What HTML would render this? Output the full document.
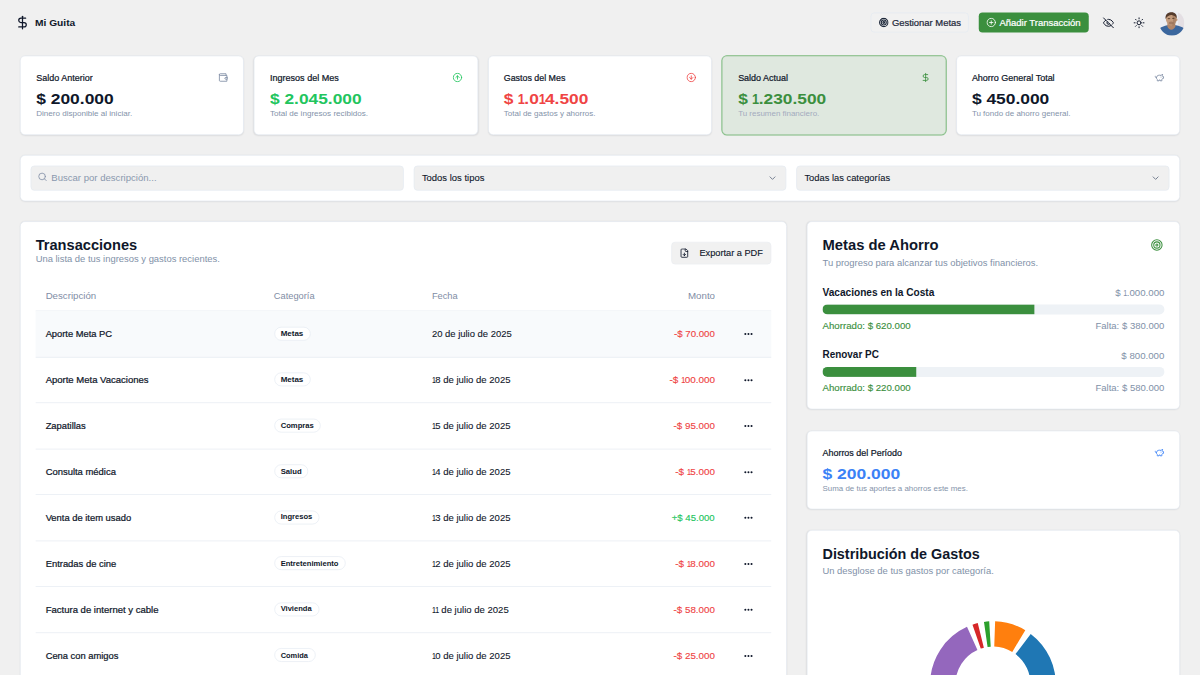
<!DOCTYPE html>
<html lang="es">
<head>
<meta charset="utf-8">
<title>Mi Guita</title>
<style>
*{box-sizing:border-box;margin:0;padding:0}
html,body{width:1200px;height:675px;overflow:hidden;background:#f0f0f0}
body{font-family:"Liberation Sans",sans-serif;color:#0f172a}
#root{position:absolute;left:0;top:0;width:1920px;height:1080px;transform:scale(.625);transform-origin:0 0;background:#f0f0f0;overflow:hidden}
svg.i{fill:none;stroke:currentColor;stroke-width:2;stroke-linecap:round;stroke-linejoin:round;display:block}
.card{position:absolute;background:#fff;border:1px solid #e2e8f0;border-radius:8px;box-shadow:0 1px 3px rgba(15,23,42,.05),0 1px 2px rgba(15,23,42,.03)}
.muted{color:#64748b}
/* header */
.logo{position:absolute;left:24px;top:24px;width:24px;height:24px;color:#0f172a}
.brand{position:absolute;left:56.400px;top:25px;height:24px;line-height:24px;font-size:15.700px;font-weight:700;white-space:nowrap}
.btn{position:absolute;top:20px;height:32px;border-radius:6px;display:flex;align-items:center;font-size:14.400px;white-space:nowrap}
.btn svg{width:16px;height:16px;margin-right:5px}
.btn-out{left:1393px;width:157px;border:1px solid #e2e8f0;background:#f1f1f1;padding-left:12px;color:#1e293b}
.btn-pri{left:1566px;width:176px;background:#3b8f3e;color:#fff;padding-left:12px}
.hicon{position:absolute;width:19px;height:19px;top:26.500px;color:#0f172a}
.avatar{position:absolute;left:1854.700px;top:16.600px;width:40px;height:40px;border-radius:50%;overflow:hidden}
/* stat cards */
.stat{top:88.500px;width:358.4px;height:127px}
.stat .t{position:absolute;left:24.500px;top:24px;height:20px;line-height:20px;font-size:14.400px;white-space:nowrap}
.stat .v{position:absolute;left:24.500px;top:52px;height:32px;line-height:32px;font-size:24.800px;font-weight:700;white-space:nowrap}
.stat .d{position:absolute;left:24.500px;top:84px;height:16px;line-height:16px;font-size:12.400px;color:#8493aa;white-space:nowrap}
.stat svg{position:absolute;right:24px;top:26px;width:16px;height:16px;color:#7d8ca4}

/* filter */
.filter{left:32px;top:248px;width:1856px;height:74px}
.inp{position:absolute;top:16px;height:40px;width:596.67px;border:1px solid #e2e8f0;border-radius:6px;background:#f0f0f0;font-size:14.400px;line-height:38px;white-space:nowrap}
.inp .ph{position:absolute;left:31.500px;top:0;color:#8a98ae}
.inp .val{position:absolute;left:12px;top:0;color:#0f172a}
.inp svg.s{position:absolute;left:9.500px;top:9px;width:16px;height:16px;color:#8492a8}
.inp svg.c{position:absolute;right:13.300px;top:11px;width:16px;height:16px;color:#5f6b80}
/* tx */
.tx{left:32px;top:354px;width:1226.67px;height:760px}
.h1{position:absolute;left:24px;top:25px;height:24px;line-height:24px;font-size:24.300px;font-weight:700;white-space:nowrap;color:#0f172a}
.sub{position:absolute;left:24px;height:20px;line-height:20px;font-size:14.400px;color:#8191a8;white-space:nowrap}
.exp{position:absolute;left:1041px;top:32px;width:160px;height:36px;border-radius:6px;background:#f1f1f1;border:1px solid #e8ebf0;font-size:14.400px;line-height:34px;color:#0f172a;white-space:nowrap}
.exp svg{position:absolute;left:12px;top:9px;width:16px;height:16px}
.exp span{position:absolute;left:44px;top:0}
.th{position:absolute;top:94px;height:48px;line-height:48px;font-size:14.400px;color:#7f8da5;white-space:nowrap}
.hl{position:absolute;left:24px;width:1176.67px;height:1px;background:#e2e8f0}
.row{position:absolute;left:24px;width:1176.67px;height:73.500px;font-size:14.400px;line-height:72.500px;white-space:nowrap;border-bottom:1px solid #e2e8f0;color:#0f172a}
.row > span{position:absolute;top:0}
.row .c1{left:16px}
.row .c3{left:634px}
.row .c4{right:90px}
.row .bd{position:absolute;left:381.600px;top:24.900px;height:22px;line-height:20px;border:1px solid #e2e8f0;border-radius:11px;font-size:12.800px;font-weight:700;background:#fff}
.row .bd b{position:absolute;left:9.800px;top:-.700px;font-weight:700}
.row svg{position:absolute;left:1131.500px;top:28.300px;width:17px;height:17px}
.n{font-style:normal;display:inline-block;width:.356em;transform:scaleX(.740);transform-origin:0 50%;margin:0 .020em 0 -.020em}
.m,.stat .t,.sav .t,.btn span,.row > .c1{-webkit-text-stroke:.350px currentColor}
.gs,.exp span{-webkit-text-stroke:.200px currentColor}
.inp .val{-webkit-text-stroke:.150px currentColor}
.row > .c4{-webkit-text-stroke:.200px currentColor}
.row > .c3{-webkit-text-stroke:.150px currentColor}
.neg{color:#ef4444}.pos{color:#22c55e}

/* right col */
.goals{left:1290.67px;top:354px;width:597.33px;height:301px}
.sav{left:1290.67px;top:689px;width:597.33px;height:126px}
.dist{left:1290.67px;top:848px;width:597.33px;height:420px}
.gi{position:absolute;right:25.500px;top:27px;width:20px;height:20px;color:#3b8f3e}
.gname{position:absolute;left:24px;height:24px;line-height:24px;font-size:16.400px;font-weight:700;white-space:nowrap}
.gtot{position:absolute;right:24px;height:20px;line-height:20px;font-size:14.400px;color:#8191a8;white-space:nowrap}
.bar{position:absolute;left:24px;width:547.33px;height:16px;border-radius:8px;background:#eef2f6;overflow:hidden}
.bar i{display:block;height:16px;background:#3b8f3e}
.gs{position:absolute;left:24px;height:20px;line-height:20px;font-size:14.400px;color:#3b8f3e;white-space:nowrap}
.gf{position:absolute;right:24px;height:20px;line-height:20px;font-size:14.400px;color:#8191a8;white-space:nowrap}
.sav .t{position:absolute;left:24px;top:24px;height:20px;line-height:20px;font-size:14.400px;white-space:nowrap}
.sav .v{position:absolute;left:24px;top:52px;height:32px;line-height:32px;font-size:24.800px;font-weight:700;white-space:nowrap;color:#3b82f6}
.sav .d{position:absolute;left:24px;top:84px;height:16px;line-height:16px;font-size:12.400px;color:#8493aa;white-space:nowrap}
.sav svg{position:absolute;right:24px;top:26px;width:16px;height:16px;color:#3b82f6}
</style>
<style id="fit">
#t-brand{transform:scaleX(1.0398);transform-origin:left center}
#t-gest{transform:scaleX(1.0476);transform-origin:left center}
#t-add{transform:scaleX(1.0553);transform-origin:left center}
#s0t{transform:scaleX(0.9976);transform-origin:left center}
#s0v{transform:scaleX(1.1229);transform-origin:left center}
#s0d{transform:scaleX(1.0414);transform-origin:left center}
#s1t{transform:scaleX(1.0037);transform-origin:left center}
#s1v{transform:scaleX(1.1182);transform-origin:left center}
#s1d{transform:scaleX(1.0447);transform-origin:left center}
#s2t{transform:scaleX(0.9861);transform-origin:left center}
#s2v{transform:scaleX(1.1172);transform-origin:left center}
#s2d{transform:scaleX(1.0350);transform-origin:left center}
#s3t{transform:scaleX(0.9973);transform-origin:left center}
#s3v{transform:scaleX(1.1177);transform-origin:left center}
#s3d{transform:scaleX(1.0284);transform-origin:left center}
#s4t{transform:scaleX(0.9990);transform-origin:left center}
#s4v{transform:scaleX(1.1229);transform-origin:left center}
#s4d{transform:scaleX(1.0307);transform-origin:left center}
#t-ph{transform:scaleX(1.0641);transform-origin:left center}
#t-sel1{transform:scaleX(1.0504);transform-origin:left center}
#t-sel2{transform:scaleX(1.0394);transform-origin:left center}
#t-tx{transform:scaleX(0.9631);transform-origin:left center}
#t-txs{transform:scaleX(1.0466);transform-origin:left center}
#t-exp{transform:scaleX(1.0246);transform-origin:left center}
#th1{transform:scaleX(1.0757);transform-origin:left center}
#th2{transform:scaleX(1.0348);transform-origin:left center}
#th3{transform:scaleX(1.0334);transform-origin:left center}
#th4{transform:scaleX(1.0796);transform-origin:right center}
#r0a{transform:scaleX(1.0383);transform-origin:left center}
#r1a{transform:scaleX(1.0571);transform-origin:left center}
#r2a{transform:scaleX(1.0424);transform-origin:left center}
#r3a{transform:scaleX(1.0487);transform-origin:left center}
#r4a{transform:scaleX(1.0426);transform-origin:left center}
#r5a{transform:scaleX(1.0466);transform-origin:left center}
#r6a{transform:scaleX(1.0597);transform-origin:left center}
#r7a{transform:scaleX(1.0393);transform-origin:left center}
#r8a{transform:scaleX(1.0701);transform-origin:left center}
#r0b{transform:scaleX(1.0010);transform-origin:left center}
#r1b{transform:scaleX(1.0010);transform-origin:left center}
#r2b{transform:scaleX(0.9575);transform-origin:left center}
#r3b{transform:scaleX(0.9639);transform-origin:left center}
#r4b{transform:scaleX(0.9507);transform-origin:left center}
#r5b{transform:scaleX(0.9508);transform-origin:left center}
#r6b{transform:scaleX(0.9477);transform-origin:left center}
#r7b{transform:scaleX(0.9285);transform-origin:left center}
#r8b{transform:scaleX(0.9285);transform-origin:left center}
#r0c{transform:scaleX(1.0500);transform-origin:left center}
#r1c{transform:scaleX(1.0591);transform-origin:left center}
#r2c{transform:scaleX(1.0591);transform-origin:left center}
#r3c{transform:scaleX(1.0591);transform-origin:left center}
#r4c{transform:scaleX(1.0591);transform-origin:left center}
#r5c{transform:scaleX(1.0591);transform-origin:left center}
#r6c{transform:scaleX(1.0612);transform-origin:left center}
#r7c{transform:scaleX(1.0591);transform-origin:left center}
#r8c{transform:scaleX(1.0385);transform-origin:left center}
#r0d{transform:scaleX(1.0771);transform-origin:right center}
#r1d{transform:scaleX(1.1026);transform-origin:right center}
#r2d{transform:scaleX(1.0870);transform-origin:right center}
#r3d{transform:scaleX(1.0943);transform-origin:right center}
#r4d{transform:scaleX(1.0649);transform-origin:right center}
#r5d{transform:scaleX(1.0943);transform-origin:right center}
#r6d{transform:scaleX(1.0870);transform-origin:right center}
#r7d{transform:scaleX(1.0870);transform-origin:right center}
#r8d{transform:scaleX(1.0870);transform-origin:right center}
#t-goals{transform:scaleX(0.9721);transform-origin:left center}
#t-goalss{transform:scaleX(1.0461);transform-origin:left center}
#g1n{transform:scaleX(0.9868);transform-origin:left center}
#g1t{transform:scaleX(1.0770);transform-origin:right center}
#g1s{transform:scaleX(1.0746);transform-origin:left center}
#g1f{transform:scaleX(1.0610);transform-origin:right center}
#g2n{transform:scaleX(0.9698);transform-origin:left center}
#g2t{transform:scaleX(1.0761);transform-origin:right center}
#g2s{transform:scaleX(1.0746);transform-origin:left center}
#g2f{transform:scaleX(1.0610);transform-origin:right center}
#t-sav{transform:scaleX(0.9938);transform-origin:left center}
#t-savv{transform:scaleX(1.1275);transform-origin:left center}
#t-savd{transform:scaleX(1.0236);transform-origin:left center}
#t-dist{transform:scaleX(0.9461);transform-origin:left center}
#t-dists{transform:scaleX(1.0446);transform-origin:left center}
</style>
</head>
<body>
<div id="root">
<svg class="i logo" viewBox="0 0 24 24"><line x1="12" x2="12" y1="2" y2="22"/><path d="M17 5H9.500a3.500 3.500 0 0 0 0 7h5a3.500 3.500 0 0 1 0 7H6"/></svg>
<div class="brand" id="t-brand">Mi Guita</div>
<div class="btn btn-out"><svg class="i" style="stroke-width:2.700" viewBox="0 0 24 24"><circle cx="12" cy="12" r="10"/><circle cx="12" cy="12" r="6"/><circle cx="12" cy="12" r="2"/></svg><span id="t-gest">Gestionar Metas</span></div>
<div class="btn btn-pri"><svg class="i" viewBox="0 0 24 24"><circle cx="12" cy="12" r="10"/><path d="M8 12h8"/><path d="M12 8v8"/></svg><span id="t-add">Añadir Transacción</span></div>
<svg class="i hicon" style="left:1764.100px" viewBox="0 0 24 24"><path d="M9.880 9.880a3 3 0 1 0 4.240 4.240"/><path d="M10.730 5.080A10.430 10.430 0 0 1 12 5c7 0 10 7 10 7a13.160 13.160 0 0 1-1.670 2.680"/><path d="M6.610 6.610A13.526 13.526 0 0 0 2 12s3 7 10 7a9.740 9.740 0 0 0 5.390-1.610"/><line x1="2" x2="22" y1="2" y2="22"/></svg>
<svg class="i hicon" style="left:1812.700px" viewBox="0 0 24 24"><circle cx="12" cy="12" r="4"/><path d="M12 2v2"/><path d="M12 20v2"/><path d="m4.930 4.930 1.410 1.410"/><path d="m17.660 17.660 1.410 1.410"/><path d="M2 12h2"/><path d="M20 12h2"/><path d="m6.340 17.660-1.410 1.410"/><path d="m19.070 4.930-1.410 1.410"/></svg>
<div class="avatar"><svg viewBox="0 0 40 40" width="40" height="40"><rect width="40" height="40" fill="#eceef3"/><rect x="30" width="10" height="40" fill="#e4dfe3"/><path d="M0 28.500c4-2.500 8-4 12.500-5h14c5 1 9 2.500 13.500 5v11.500H0z" fill="#3b679e"/><path d="M13 20h12l1 4.500c-2 4-4 6-7 6s-5-2-6.500-6z" fill="#b0866a"/><ellipse cx="18.800" cy="13.500" rx="8.400" ry="10.300" fill="#c49c7e"/><path d="M19 3c5 0 9 4 8.500 12-.300 5-3 9-7 9 2-6 2-14-1.500-21z" fill="#9c7459" opacity=".600"/><path d="M10 13.500c-1.200-6.500 3-10.800 9.300-10.800 6 0 9.300 3.800 8.400 9.800-1.300-3-3.300-4.800-6.800-5.300-4-.500-8 .800-10.900 6.300z" fill="#553c2d"/><ellipse cx="15.300" cy="12.600" rx="2.200" ry="1" fill="#46301f" opacity=".750"/><ellipse cx="22.300" cy="12.300" rx="2.100" ry="1" fill="#46301f" opacity=".750"/><ellipse cx="18.800" cy="19.800" rx="4.200" ry="2.600" fill="#7a5540" opacity=".450"/><ellipse cx="27.700" cy="14.500" rx="1.300" ry="2.100" fill="#bd9375"/></svg></div>
<div class="card stat" style="left:32.0px;"><div class="t" id="s0t">Saldo Anterior</div><svg class="i" viewBox="0 0 24 24" style="color:#7d8ca4"><path d="M21 12V7H5a2 2 0 0 1 0-4h14v4"/><path d="M3 5v14a2 2 0 0 0 2 2h16v-5"/><path d="M18 12a2 2 0 0 0 0 4h4v-4Z"/></svg><div class="v" id="s0v" style="color:#0f172a">$ 200.000</div><div class="d" id="s0d">Dinero disponible al iniciar.</div></div>
<div class="card stat" style="left:406.4px;"><div class="t" id="s1t">Ingresos del Mes</div><svg class="i" viewBox="0 0 24 24" style="color:#22c55e"><circle cx="12" cy="12" r="10"/><path d="m16 12-4-4-4 4"/><path d="M12 16V8"/></svg><div class="v" id="s1v" style="color:#22c55e">$ 2.045.000</div><div class="d" id="s1d">Total de ingresos recibidos.</div></div>
<div class="card stat" style="left:780.8px;"><div class="t" id="s2t">Gastos del Mes</div><svg class="i" viewBox="0 0 24 24" style="color:#ef4444"><circle cx="12" cy="12" r="10"/><path d="M12 8v8"/><path d="m8 12 4 4 4-4"/></svg><div class="v" id="s2v" style="color:#ef4444">$ <i class="n">1</i>.0<i class="n">1</i>4.500</div><div class="d" id="s2d">Total de gastos y ahorros.</div></div>
<div class="card stat" style="left:1155.2px;background:#dfe8df;border-color:#86bf88;box-shadow:0 0 0 .800px #86bf88;"><div class="t" id="s3t">Saldo Actual</div><svg class="i" viewBox="0 0 24 24" style="color:#3b8f3e"><line x1="12" x2="12" y1="2" y2="22"/><path d="M17 5H9.500a3.500 3.500 0 0 0 0 7h5a3.500 3.500 0 0 1 0 7H6"/></svg><div class="v" id="s3v" style="color:#3b8f3e">$ <i class="n">1</i>.230.500</div><div class="d" id="s3d" style="color:#a3abbe">Tu resumen financiero.</div></div>
<div class="card stat" style="left:1529.6px;"><div class="t" id="s4t">Ahorro General Total</div><svg class="i" viewBox="0 0 24 24" style="color:#7d8ca4"><path d="M19 5c-1.500 0-2.800 1.400-3 2-3.500-1.500-11-.300-11 5 0 1.800 0 3 2 4.500V20h4v-2h3v2h4v-4c1-.500 1.700-1 2-2h2v-4h-2c0-1-.500-1.500-1-2V5z"/><path d="M2 9v1c0 1.100.900 2 2 2h1"/><path d="M16 11h.010"/></svg><div class="v" id="s4v" style="color:#0f172a">$ 450.000</div><div class="d" id="s4d">Tu fondo de ahorro general.</div></div>

<div class="card filter">
<div class="inp" style="left:16px"><svg class="i s" viewBox="0 0 24 24"><circle cx="11" cy="11" r="8"/><path d="m21 21-4.300-4.300"/></svg><span class="ph" id="t-ph">Buscar por descripción...</span></div>
<div class="inp" style="left:628.67px"><span class="val" id="t-sel1">Todos los tipos</span><svg class="i c" viewBox="0 0 24 24"><path d="m6 9 6 6 6-6"/></svg></div>
<div class="inp" style="left:1241.33px"><span class="val" id="t-sel2">Todas las categorías</span><svg class="i c" viewBox="0 0 24 24"><path d="m6 9 6 6 6-6"/></svg></div>
</div>
<div class="card tx">
<div class="h1" id="t-tx">Transacciones</div>
<div class="sub" id="t-txs" style="top:49px">Una lista de tus ingresos y gastos recientes.</div>
<div class="exp"><svg class="i" viewBox="0 0 24 24"><path d="M15 2H6a2 2 0 0 0-2 2v16a2 2 0 0 0 2 2h12a2 2 0 0 0 2-2V7Z"/><path d="M14 2v4a2 2 0 0 0 2 2h4"/><path d="M12 18v-6"/><path d="m9 15 3 3 3-3"/></svg><span id="t-exp">Exportar a PDF</span></div>
<div class="th" id="th1" style="left:40px">Descripción</div>
<div class="th" id="th2" style="left:405px">Categoría</div>
<div class="th" id="th3" style="left:658px">Fecha</div>
<div class="th" id="th4" style="right:114px">Monto</div>
<div class="hl" style="top:142px"></div>
<div class="row" style="top:143.0px;background:#f8fafc"><span class="c1" id="r0a">Aporte Meta PC</span><span class="bd" style="width:58.2px"><b id="r0b">Metas</b></span><span class="c3" id="r0c">20 de julio de 2025</span><span class="c4 neg" id="r0d">-$ 70.000</span><svg viewBox="0 0 24 24"><circle cx="12" cy="12" r="2.300" fill="#0f172a"/><circle cx="19" cy="12" r="2.300" fill="#0f172a"/><circle cx="5" cy="12" r="2.300" fill="#0f172a"/></svg></div>
<div class="row" style="top:216.5px"><span class="c1" id="r1a">Aporte Meta Vacaciones</span><span class="bd" style="width:58.2px"><b id="r1b">Metas</b></span><span class="c3" id="r1c"><i class="n">1</i>8 de julio de 2025</span><span class="c4 neg" id="r1d">-$ <i class="n">1</i>00.000</span><svg viewBox="0 0 24 24"><circle cx="12" cy="12" r="2.300" fill="#0f172a"/><circle cx="19" cy="12" r="2.300" fill="#0f172a"/><circle cx="5" cy="12" r="2.300" fill="#0f172a"/></svg></div>
<div class="row" style="top:290.0px"><span class="c1" id="r2a">Zapatillas</span><span class="bd" style="width:74.7px"><b id="r2b">Compras</b></span><span class="c3" id="r2c"><i class="n">1</i>5 de julio de 2025</span><span class="c4 neg" id="r2d">-$ 95.000</span><svg viewBox="0 0 24 24"><circle cx="12" cy="12" r="2.300" fill="#0f172a"/><circle cx="19" cy="12" r="2.300" fill="#0f172a"/><circle cx="5" cy="12" r="2.300" fill="#0f172a"/></svg></div>
<div class="row" style="top:363.5px"><span class="c1" id="r3a">Consulta médica</span><span class="bd" style="width:54.6px"><b id="r3b">Salud</b></span><span class="c3" id="r3c"><i class="n">1</i>4 de julio de 2025</span><span class="c4 neg" id="r3d">-$ <i class="n">1</i>5.000</span><svg viewBox="0 0 24 24"><circle cx="12" cy="12" r="2.300" fill="#0f172a"/><circle cx="19" cy="12" r="2.300" fill="#0f172a"/><circle cx="5" cy="12" r="2.300" fill="#0f172a"/></svg></div>
<div class="row" style="top:437.0px"><span class="c1" id="r4a">Venta de item usado</span><span class="bd" style="width:72.4px"><b id="r4b">Ingresos</b></span><span class="c3" id="r4c"><i class="n">1</i>3 de julio de 2025</span><span class="c4 pos" id="r4d">+$ 45.000</span><svg viewBox="0 0 24 24"><circle cx="12" cy="12" r="2.300" fill="#0f172a"/><circle cx="19" cy="12" r="2.300" fill="#0f172a"/><circle cx="5" cy="12" r="2.300" fill="#0f172a"/></svg></div>
<div class="row" style="top:510.5px"><span class="c1" id="r5a">Entradas de cine</span><span class="bd" style="width:114.6px"><b id="r5b">Entretenimiento</b></span><span class="c3" id="r5c"><i class="n">1</i>2 de julio de 2025</span><span class="c4 neg" id="r5d">-$ <i class="n">1</i>8.000</span><svg viewBox="0 0 24 24"><circle cx="12" cy="12" r="2.300" fill="#0f172a"/><circle cx="19" cy="12" r="2.300" fill="#0f172a"/><circle cx="5" cy="12" r="2.300" fill="#0f172a"/></svg></div>
<div class="row" style="top:584.0px"><span class="c1" id="r6a">Factura de internet y cable</span><span class="bd" style="width:72.3px"><b id="r6b">Vivienda</b></span><span class="c3" id="r6c"><i class="n">1</i><i class="n">1</i> de julio de 2025</span><span class="c4 neg" id="r6d">-$ 58.000</span><svg viewBox="0 0 24 24"><circle cx="12" cy="12" r="2.300" fill="#0f172a"/><circle cx="19" cy="12" r="2.300" fill="#0f172a"/><circle cx="5" cy="12" r="2.300" fill="#0f172a"/></svg></div>
<div class="row" style="top:657.5px"><span class="c1" id="r7a">Cena con amigos</span><span class="bd" style="width:66.2px"><b id="r7b">Comida</b></span><span class="c3" id="r7c"><i class="n">1</i>0 de julio de 2025</span><span class="c4 neg" id="r7d">-$ 25.000</span><svg viewBox="0 0 24 24"><circle cx="12" cy="12" r="2.300" fill="#0f172a"/><circle cx="19" cy="12" r="2.300" fill="#0f172a"/><circle cx="5" cy="12" r="2.300" fill="#0f172a"/></svg></div>
<div class="row" style="top:731.0px"><span class="c1" id="r8a">Supermercado</span><span class="bd" style="width:66.2px"><b id="r8b">Comida</b></span><span class="c3" id="r8c">8 de julio de 2025</span><span class="c4 neg" id="r8d">-$ 85.000</span><svg viewBox="0 0 24 24"><circle cx="12" cy="12" r="2.300" fill="#0f172a"/><circle cx="19" cy="12" r="2.300" fill="#0f172a"/><circle cx="5" cy="12" r="2.300" fill="#0f172a"/></svg></div>
</div>
<div class="card goals">
<div class="h1" id="t-goals">Metas de Ahorro</div>
<div class="sub" id="t-goalss" style="top:55px">Tu progreso para alcanzar tus objetivos financieros.</div>
<svg class="i gi" viewBox="0 0 24 24"><circle cx="12" cy="12" r="10"/><circle cx="12" cy="12" r="6"/><circle cx="12" cy="12" r="2"/></svg>
<div class="gname" id="g1n" style="top:100px">Vacaciones en la Costa</div><div class="gtot" id="g1t" style="top:104px">$ <i class="n">1</i>.000.000</div>
<div class="bar" style="top:131.500px"><i style="width:62%"></i></div>
<div class="gs" id="g1s" style="top:156px">Ahorrado: $ 620.000</div><div class="gf" id="g1f" style="top:156px">Falta: $ 380.000</div>
<div class="gname" id="g2n" style="top:200px">Renovar PC</div><div class="gtot" id="g2t" style="top:204px">$ 800.000</div>
<div class="bar" style="top:232px"><i style="width:27.500%"></i></div>
<div class="gs" id="g2s" style="top:256px">Ahorrado: $ 220.000</div><div class="gf" id="g2f" style="top:256px">Falta: $ 580.000</div>
</div>
<div class="card sav">
<div class="t" id="t-sav">Ahorros del Período</div><svg class="i" viewBox="0 0 24 24"><path d="M19 5c-1.500 0-2.800 1.400-3 2-3.500-1.500-11-.300-11 5 0 1.800 0 3 2 4.500V20h4v-2h3v2h4v-4c1-.500 1.700-1 2-2h2v-4h-2c0-1-.500-1.500-1-2V5z"/><path d="M2 9v1c0 1.100.900 2 2 2h1"/><path d="M16 11h.010"/></svg>
<div class="v" id="t-savv">$ 200.000</div><div class="d" id="t-savd">Suma de tus aportes a ahorros este mes.</div>
</div>
<div class="card dist">
<div class="h1" id="t-dist" style="top:24.500px">Distribución de Gastos</div>
<div class="sub" id="t-dists" style="top:54px">Un desglose de tus gastos por categoría.</div>
<svg style="position:absolute;left:0;top:0" width="597" height="420" viewBox="0 0 597 420"><path d="M300.21 145.06A100.5 100.5 0 0 1 348.46 159.35L327.60 194.07A60 60 0 0 0 298.79 185.54Z" fill="#ff7f0e"/><path d="M357.18 165.24A100.5 100.5 0 0 1 346.95 332.54L326.70 297.46A60 60 0 0 0 332.81 197.58Z" fill="#1f77b4"/><path d="M339.17 336.58A100.5 100.5 0 0 1 262.33 339.94L276.18 301.88A60 60 0 0 0 322.06 299.88Z" fill="#8c564b"/><path d="M254.23 336.58A100.5 100.5 0 0 1 255.18 153.98L271.91 190.86A60 60 0 0 0 271.34 299.88Z" fill="#9467bd"/><path d="M263.98 150.48A100.5 100.5 0 0 1 272.39 147.99L282.18 187.28A60 60 0 0 0 277.17 188.77Z" fill="#d62728"/><path d="M282.37 146.03A100.5 100.5 0 0 1 290.74 145.18L293.14 185.61A60 60 0 0 0 288.14 186.11Z" fill="#2ca02c"/></svg>
</div>
</div>
</body>
</html>
